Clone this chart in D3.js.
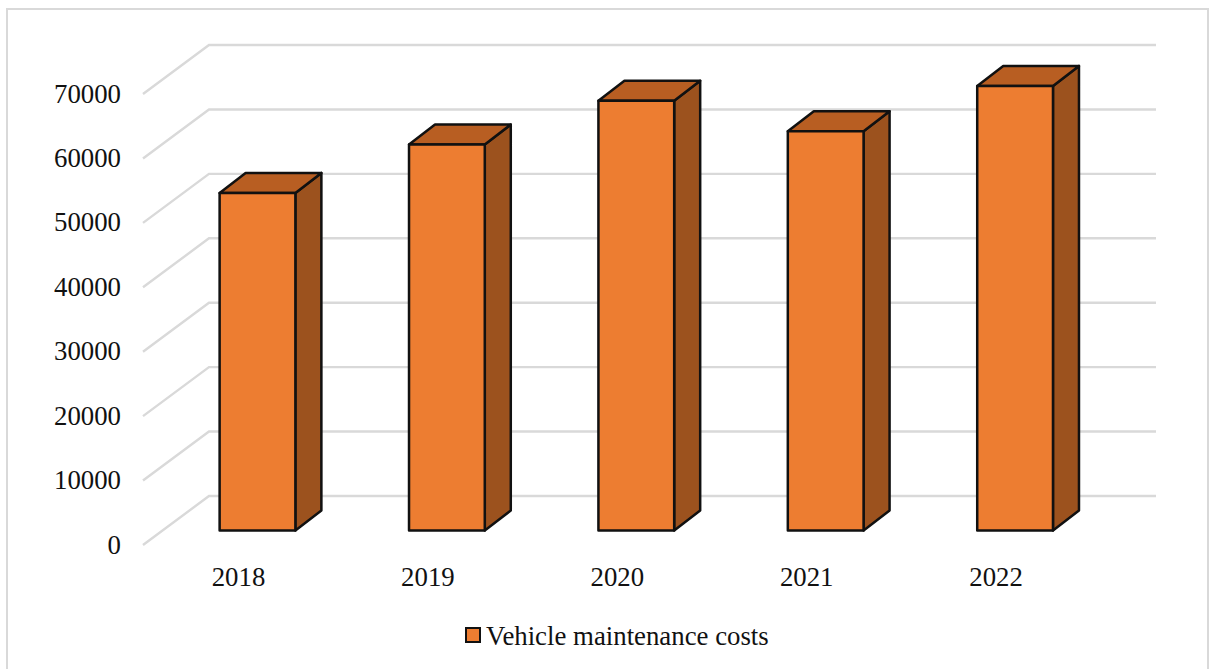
<!DOCTYPE html>
<html><head><meta charset="utf-8">
<script src="https://cdn.jsdelivr.net/npm/d3@7"></script>
<style>html,body{margin:0;padding:0;background:#fff}svg{display:block}text{font-family:"Liberation Serif",serif;fill:#111}</style>
</head><body><div id="c"></div>
<script>
const categories=["2018","2019","2020","2021","2022"];
const values=[52400,59900,66700,61950,69000];
const yTicks=[0,10000,20000,30000,40000,50000,60000,70000];
const seriesName="Vehicle maintenance costs";
const W=1217,H=669;
const svg=d3.select("#c").append("svg").attr("width",W).attr("height",H);
svg.append("rect").attr("x",7).attr("y",9).attr("width",1201).attr("height",675).attr("fill","#fff").attr("stroke","#d9d9d9").attr("stroke-width",2);
const y=d3.scaleLinear().domain([0,70000]).range([545,94]);
const x=d3.scaleBand().domain(categories).range([162.8,1109.8]).paddingInner(0.6).paddingOuter(0.3);
const wallDx=66,wallDy=-49,wallRight=1156;
const barShift=15,depthDx=26,depthDy=-20;
const grid=svg.append("g").attr("fill","none").attr("stroke","#d9d9d9").attr("stroke-width",2.4);
grid.selectAll("path").data(yTicks).join("path")
 .attr("d",d=>`M143,${y(d)}L${143+wallDx},${y(d)+wallDy}L${wallRight},${y(d)+wallDy}`);
const ax=svg.append("g").attr("font-size",26.8);
ax.selectAll("text").data(yTicks).join("text").attr("x",121).attr("y",d=>y(d)+8.5).attr("text-anchor","end").text(d=>d);
const bars=svg.append("g").attr("stroke","#111").attr("stroke-width",2.5).attr("stroke-linejoin","round");
categories.forEach((c,i)=>{
 const l=x(c),r=l+x.bandwidth(),t=y(values[i])-barShift+0.5,b=y(0)-barShift+0.5;
 const g=bars.append("g");
 g.append("path").attr("fill","#9c521e").attr("d",`M${r},${t}L${r+depthDx},${t+depthDy}L${r+depthDx},${b+depthDy}L${r},${b}Z`);
 g.append("path").attr("fill","#b85e22").attr("d",`M${l},${t}L${l+depthDx},${t+depthDy}L${r+depthDx},${t+depthDy}L${r},${t}Z`);
 g.append("rect").attr("x",l).attr("y",t).attr("width",x.bandwidth()).attr("height",b-t).attr("fill","#ed7d31");
});
const xl=svg.append("g").attr("font-size",26.8);
xl.selectAll("text").data(categories).join("text").attr("x",d=>x(d)+x.bandwidth()/2-19).attr("y",586).attr("text-anchor","middle").text(d=>d);
svg.append("rect").attr("x",466).attr("y",628).attr("width",14).attr("height",14).attr("fill","#ed7d31").attr("stroke","#111").attr("stroke-width",2);
svg.append("text").attr("x",486).attr("y",645).attr("font-size",26.8).text(seriesName);
</script></body></html>
